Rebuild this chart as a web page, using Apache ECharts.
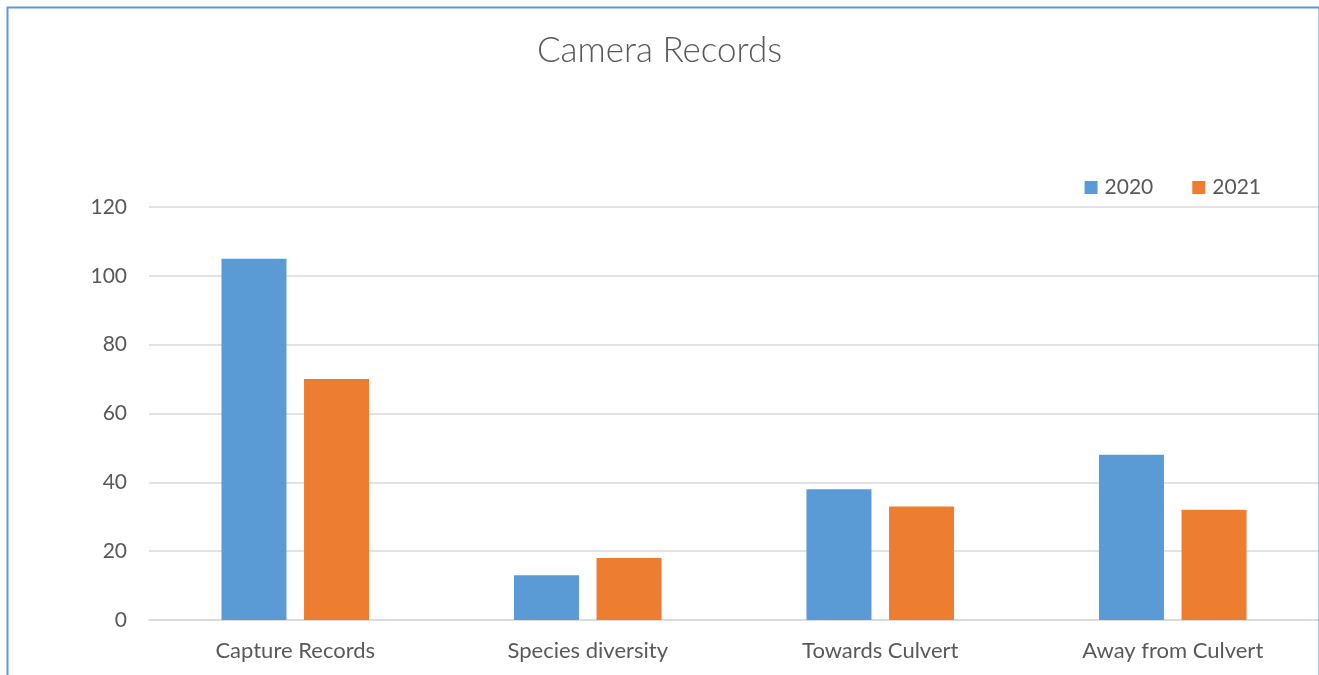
<!DOCTYPE html>
<html>
<head>
<meta charset="utf-8">
<script src="https://cdn.jsdelivr.net/npm/echarts@6/dist/echarts.min.js"></script>
<style>
  html, body { margin: 0; padding: 0; background: #ffffff; }
  #chart { width: 1319px; height: 675px; }
</style>
</head>
<body>
<div id="chart"></div>
<script>
// Camera trap summary for the culvert site, by year
const categories = ['Capture Records', 'Species diversity', 'Towards Culvert', 'Away from Culvert'];
const values2020 = [105, 13, 38, 48];
const values2021 = [70, 18, 33, 32];
const yTicks = { min: 0, max: 120, interval: 20 };

const FONT = 'Lato';
const TEXT = '#595959';

const chart = echarts.init(document.getElementById('chart'), null, { renderer: 'canvas' });

chart.setOption({
  backgroundColor: '#ffffff',
  animation: false,
  textStyle: { fontFamily: FONT },
  title: {
    text: 'Camera Records',
    left: 'center',
    top: 28,
    textStyle: { fontFamily: FONT, fontSize: 35, fontWeight: 300, color: TEXT }
  },
  legend: {
    right: 53,
    top: 172,
    itemWidth: 13,
    itemHeight: 13,
    itemGap: 39,
    icon: 'rect',
    textStyle: { fontFamily: FONT, fontSize: 21, color: TEXT, padding: [0, 0, 0, 2] },
    data: ['2020', '2021']
  },
  grid: { left: 149, right: 0, top: 207, bottom: 55, containLabel: false },
  xAxis: {
    type: 'category',
    data: categories,
    axisLine: { show: true, lineStyle: { color: '#d9d9d9', width: 1.5 } },
    axisTick: { show: false },
    axisLabel: { color: TEXT, fontFamily: FONT, fontSize: 22, margin: 20 }
  },
  yAxis: {
    type: 'value',
    min: yTicks.min,
    max: yTicks.max,
    interval: yTicks.interval,
    axisLine: { show: false },
    axisTick: { show: false },
    axisLabel: { color: TEXT, fontFamily: FONT, fontSize: 21, margin: 22 },
    splitLine: { lineStyle: { color: '#d9d9d9', width: 1.5 } }
  },
  series: [
    {
      name: '2020',
      type: 'bar',
      data: values2020,
      barWidth: 65,
      barGap: '27%',
      itemStyle: { color: '#5b9bd5' }
    },
    {
      name: '2021',
      type: 'bar',
      data: values2021,
      barWidth: 65,
      barGap: '27%',
      itemStyle: { color: '#ed7d31' }
    }
  ],
  graphic: [
    {
      type: 'rect',
      left: 5,
      top: 5,
      z: 100,
      shape: { x: 0, y: 0, width: 1312, height: 700 },
      style: { fill: 'none', stroke: '#5b9bd5', lineWidth: 2 },
      silent: true
    }
  ]
});
</script>
</body>
</html>
